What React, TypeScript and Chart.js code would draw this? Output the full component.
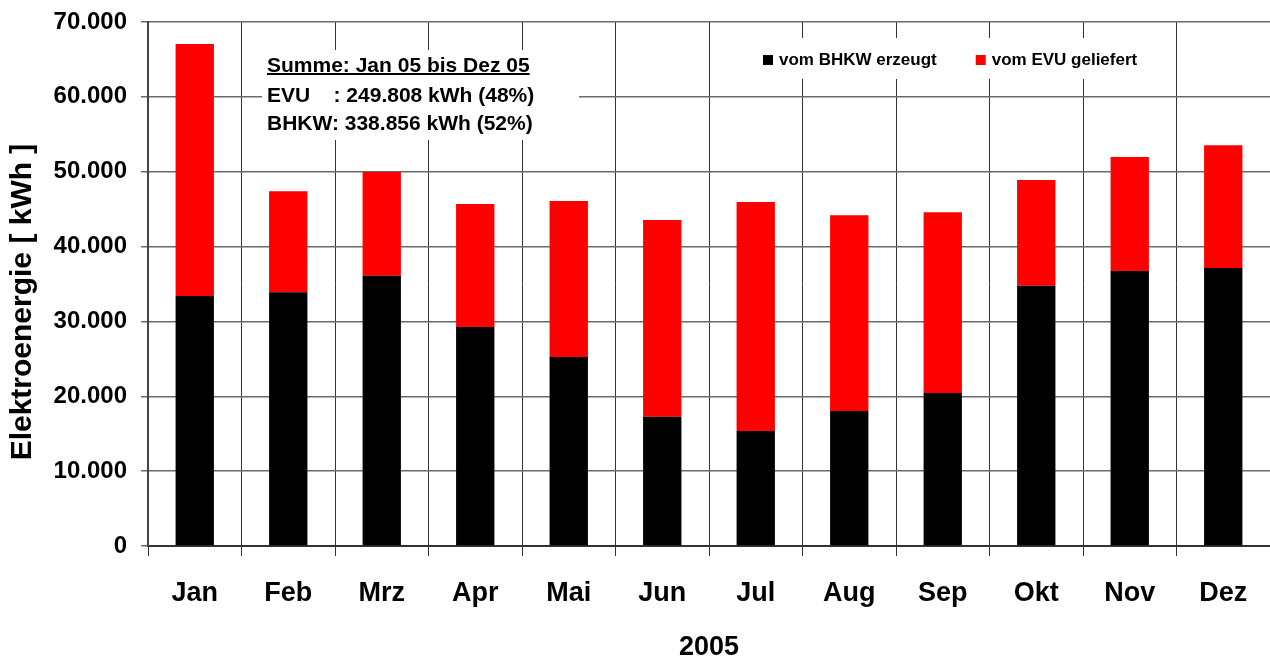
import React, { useEffect, useRef } from 'react';
import { Chart, registerables } from 'chart.js';

Chart.register(...registerables);

const months = ['Jan', 'Feb', 'Mrz', 'Apr', 'Mai', 'Jun', 'Jul', 'Aug', 'Sep', 'Okt', 'Nov', 'Dez'];
const bhkwValues = [33400, 33900, 36100, 29250, 25250, 17250, 15350, 18050, 20450, 34750, 36750, 37150];
const evuValues = [33650, 13500, 13850, 16450, 20850, 26300, 30600, 26150, 24150, 14150, 15200, 16400];
const seriesLabels = ['vom BHKW erzeugt', 'vom EVU geliefert'];
const seriesColors = ['#000000', '#ff0000'];
const yMax = 70000;
const yStep = 10000;
const xTitle = '2005';
const yTitle = 'Elektroenergie [ kWh ]';
const summaryLines = ['Summe: Jan 05 bis Dez 05', 'EVU    : 249.808 kWh (48%)', 'BHKW: 338.856 kWh (52%)'];

const FONT = "'Liberation Sans', Arial, Helvetica, sans-serif";

const fmt = (v: number) => String(Math.round(v)).replace(/\B(?=(\d{3})+(?!\d))/g, '.');

const overlayPlugin = {
  id: 'overlay',
  beforeDatasetsDraw(chart: any) {
    const ctx = chart.ctx;
    ctx.save();
    // summary box
    ctx.fillStyle = '#ffffff';
    ctx.fillRect(262, 50, 317, 90);
    ctx.fillStyle = '#000000';
    ctx.font = `bold 21px ${FONT}`;
    ctx.textBaseline = 'alphabetic';
    ctx.textAlign = 'left';
    const lx = 267;
    const baselines = [72, 102, 130];
    summaryLines.forEach((t, i) => {
      ctx.fillText(t, lx, baselines[i]);
    });
    const w = ctx.measureText(summaryLines[0]).width;
    ctx.fillRect(lx, 73, w, 2);

    // legend box
    ctx.fillStyle = '#ffffff';
    ctx.fillRect(718, 38, 455, 41);
    ctx.font = `bold 17px ${FONT}`;
    ctx.textBaseline = 'middle';
    let x = 763;
    chart.data.datasets.forEach((ds: any) => {
      ctx.fillStyle = ds.backgroundColor;
      ctx.fillRect(x, 55, 10, 10);
      ctx.fillStyle = '#000000';
      ctx.fillText(ds.label, x + 16, 60);
      x += 16 + ctx.measureText(ds.label).width + 39;
    });
    ctx.restore();
  },
  afterDraw(chart: any) {
    const ctx = chart.ctx;
    ctx.save();
    ctx.translate(23, 302);
    ctx.rotate(-Math.PI / 2);
    ctx.font = `bold 30px ${FONT}`;
    ctx.fillStyle = '#000000';
    ctx.textAlign = 'center';
    ctx.textBaseline = 'middle';
    ctx.fillText(yTitle, 0, 0);
    ctx.restore();
  },
};

export default function App() {
  const ref = useRef<HTMLCanvasElement | null>(null);

  useEffect(() => {
    if (!ref.current) return;
    const chart = new Chart(ref.current, {
      type: 'bar',
      data: {
        labels: months,
        datasets: [
          {
            label: seriesLabels[0],
            data: bhkwValues,
            backgroundColor: seriesColors[0],
            barPercentage: 0.41,
            categoryPercentage: 1,
          },
          {
            label: seriesLabels[1],
            data: evuValues,
            backgroundColor: seriesColors[1],
            barPercentage: 0.41,
            categoryPercentage: 1,
          },
        ],
      },
      options: {
        responsive: false,
        animation: false,
        devicePixelRatio: 1,
        layout: { padding: { top: 22, left: 0, right: 0, bottom: 0 } },
        plugins: {
          legend: { display: false },
          tooltip: { enabled: false },
        },
        scales: {
          x: {
            stacked: true,
            grid: { offset: true, color: '#333333', lineWidth: 1, tickLength: 10 },
            border: { color: '#333333', width: 2 },
            ticks: {
              color: '#000000',
              font: { family: FONT, size: 27, weight: 'bold' },
              padding: 21,
              maxRotation: 0,
            },
            title: {
              display: true,
              text: xTitle,
              color: '#000000',
              font: { family: FONT, size: 27, weight: 'bold', lineHeight: 0.8 },
              padding: 0,
            },
            afterFit: (s: any) => {
              s.height = 112;
              s.paddingLeft = 0;
              s.paddingRight = 0;
            },
          },
          y: {
            stacked: true,
            min: 0,
            max: yMax,
            grid: { color: '#6a6a6a', lineWidth: 1.5, tickLength: 7 },
            border: { color: '#444444', width: 2 },
            ticks: {
              stepSize: yStep,
              color: '#000000',
              font: { family: FONT, size: 24, weight: 'bold' },
              padding: 14,
              callback: (v: any) => fmt(Number(v)),
            },
            afterFit: (s: any) => {
              s.width = 148;
              s.paddingTop = 0;
              s.paddingBottom = 0;
            },
          },
        },
      },
      plugins: [overlayPlugin],
    });
    return () => chart.destroy();
  }, []);

  return (
    <div style={{ position: 'fixed', left: 0, top: 0, width: 1270, height: 658, background: '#fff' }}>
      <canvas ref={ref} width={1270} height={658} style={{ display: 'block' }} />
    </div>
  );
}
